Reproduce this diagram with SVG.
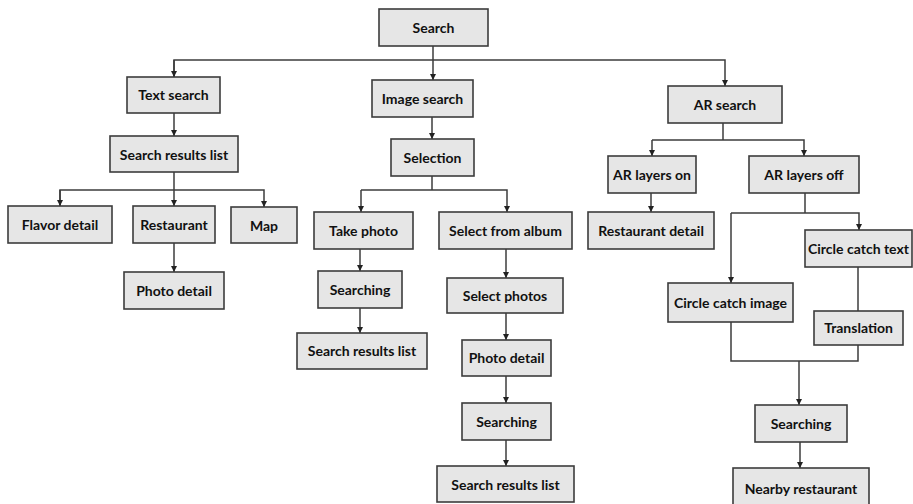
<svg xmlns="http://www.w3.org/2000/svg" width="913" height="504" viewBox="0 0 913 504">
<style>
.n rect{fill:#e6e6e6;stroke:#3c3c3c;stroke-width:1.6}
.n text{font-family:Lato,"Liberation Sans",sans-serif;font-weight:bold;font-size:14px;fill:#111;text-anchor:middle;dominant-baseline:central}
.c path{fill:none;stroke:#3c3c3c;stroke-width:1.5}
</style>
<defs>
<marker id="a" viewBox="0 0 10 10" refX="10" refY="5" markerWidth="6" markerHeight="6" markerUnits="userSpaceOnUse" orient="auto">
<path d="M0,0 L10,5 L0,10 Z" fill="#222"/>
</marker>
</defs>
<rect width="913" height="504" fill="#fff"/>
<g class="c">
<path d="M433,46 V80" marker-end="url(#a)"/>
<path d="M174,77 V60 H725 V86" marker-end="url(#a)"/>
<path d="M174,60 V77" marker-end="url(#a)"/>
<path d="M174,113 V136" marker-end="url(#a)"/>
<path d="M174,172 V206" marker-end="url(#a)"/>
<path d="M60,206 V190 H264 V207" marker-end="url(#a)"/>
<path d="M60,190 V206" marker-end="url(#a)"/>
<path d="M174,243 V272" marker-end="url(#a)"/>
<path d="M432,117 V139" marker-end="url(#a)"/>
<path d="M432,176 V190"/>
<path d="M361,190 H507 V212" marker-end="url(#a)"/>
<path d="M361,190 V212" marker-end="url(#a)"/>
<path d="M360,249 V271" marker-end="url(#a)"/>
<path d="M360,308 V333" marker-end="url(#a)"/>
<path d="M506,249 V278" marker-end="url(#a)"/>
<path d="M506,313 V340" marker-end="url(#a)"/>
<path d="M506,376 V403" marker-end="url(#a)"/>
<path d="M506,440 V466" marker-end="url(#a)"/>
<path d="M723,123 V140"/>
<path d="M652,140 H804 V156" marker-end="url(#a)"/>
<path d="M652,140 V156" marker-end="url(#a)"/>
<path d="M651,193 V212" marker-end="url(#a)"/>
<path d="M805,193 V213"/>
<path d="M731,213 H859 V230" marker-end="url(#a)"/>
<path d="M731,213 V283" marker-end="url(#a)"/>
<path d="M858,267 V311"/>
<path d="M731,322 V361 H858 V345"/>
<path d="M799,361 V405" marker-end="url(#a)"/>
<path d="M800,442 V468" marker-end="url(#a)"/>
</g>
<g id="search" class="n"><rect x="379" y="9" width="109" height="37"/><text x="433.5" y="27">Search</text></g>
<g id="text-search" class="n"><rect x="127" y="77" width="93" height="36"/><text x="173.5" y="94">Text search</text></g>
<g id="image-search" class="n"><rect x="372" y="80" width="101" height="37"/><text x="422.5" y="98">Image search</text></g>
<g id="ar-search" class="n"><rect x="668" y="86" width="114" height="37"/><text x="725" y="104">AR search</text></g>
<g id="search-results-1" class="n"><rect x="110" y="136" width="128" height="36"/><text x="174" y="154">Search results list</text></g>
<g id="selection" class="n"><rect x="391" y="139" width="83" height="37"/><text x="432.5" y="157">Selection</text></g>
<g id="ar-layers-on" class="n"><rect x="608" y="156" width="88" height="37"/><text x="652" y="174">AR layers on</text></g>
<g id="ar-layers-off" class="n"><rect x="749" y="156" width="110" height="37"/><text x="804" y="174">AR layers off</text></g>
<g id="flavor-detail" class="n"><rect x="8" y="206" width="104" height="37"/><text x="60" y="224">Flavor detail</text></g>
<g id="restaurant" class="n"><rect x="133" y="206" width="82" height="37"/><text x="174" y="224">Restaurant</text></g>
<g id="map" class="n"><rect x="231" y="207" width="66" height="36"/><text x="264" y="225">Map</text></g>
<g id="take-photo" class="n"><rect x="314" y="212" width="99" height="37"/><text x="363.5" y="230">Take photo</text></g>
<g id="select-from-album" class="n"><rect x="439" y="212" width="133" height="37"/><text x="505.5" y="230">Select from album</text></g>
<g id="restaurant-detail" class="n"><rect x="588" y="212" width="126" height="37"/><text x="651" y="230">Restaurant detail</text></g>
<g id="circle-catch-text" class="n"><rect x="805" y="230" width="107" height="37"/><text x="858.5" y="248">Circle catch text</text></g>
<g id="photo-detail-1" class="n"><rect x="124" y="272" width="100" height="37"/><text x="174" y="290">Photo detail</text></g>
<g id="searching-1" class="n"><rect x="318" y="271" width="84" height="37"/><text x="360" y="289">Searching</text></g>
<g id="select-photos" class="n"><rect x="447" y="278" width="116" height="35"/><text x="505" y="295">Select photos</text></g>
<g id="circle-catch-image" class="n"><rect x="668" y="283" width="125" height="39"/><text x="730.5" y="302">Circle catch image</text></g>
<g id="translation" class="n"><rect x="814" y="311" width="89" height="34"/><text x="858.5" y="327">Translation</text></g>
<g id="search-results-2" class="n"><rect x="297" y="333" width="130" height="36"/><text x="362" y="350">Search results list</text></g>
<g id="photo-detail-2" class="n"><rect x="462" y="340" width="89" height="36"/><text x="506.5" y="357">Photo detail</text></g>
<g id="searching-2" class="n"><rect x="462" y="403" width="89" height="37"/><text x="506.5" y="421">Searching</text></g>
<g id="searching-3" class="n"><rect x="755" y="405" width="92" height="37"/><text x="801" y="423">Searching</text></g>
<g id="search-results-3" class="n"><rect x="437" y="466" width="137" height="36"/><text x="505.5" y="484">Search results list</text></g>
<g id="nearby-restaurant" class="n"><rect x="733" y="468" width="136" height="40"/><text x="801" y="488">Nearby restaurant</text></g>
</svg>
